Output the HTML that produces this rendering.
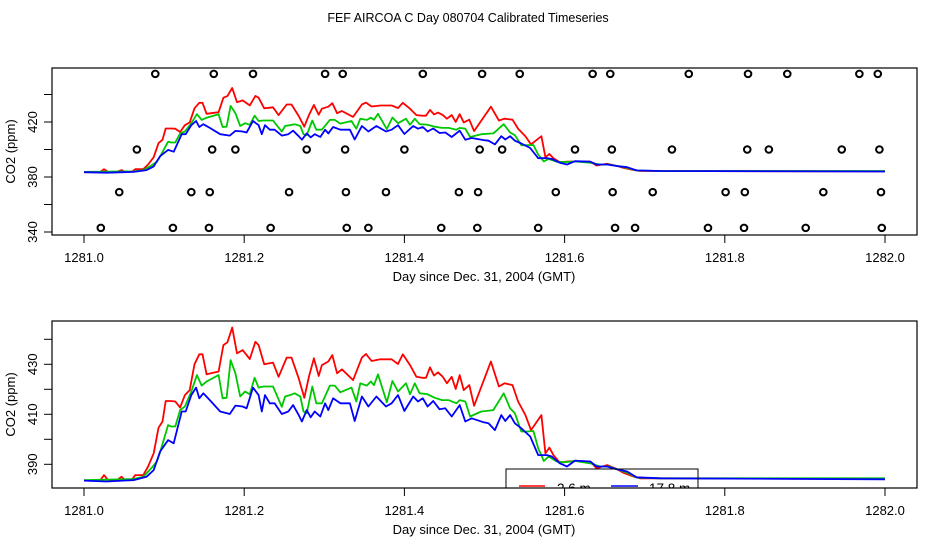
<!DOCTYPE html>
<html><head><meta charset="utf-8"><style>
body{margin:0;background:#fff;}
svg{display:block;font-family:"Liberation Sans",sans-serif;}
</style></head><body>
<svg id="c" width="936" height="540" viewBox="0 0 936 540">
<defs>
<clipPath id="clipTop"><rect x="52" y="68" width="865" height="167"/></clipPath>
<clipPath id="clipBot"><rect x="52" y="321" width="865" height="167"/></clipPath>
</defs>
<rect width="936" height="540" fill="#fff"/>
<text x="468" y="22" text-anchor="middle" font-size="12.5">FEF AIRCOA C  Day 080704  Calibrated Timeseries</text>
<g id="top"></g>
<g id="bot"></g>
</svg>
<script>
const dayBase = 1281;
const xTicks = [1281.0, 1281.2, 1281.4, 1281.6, 1281.8, 1282.0];
const xTickLabels = ["1281.0", "1281.2", "1281.4", "1281.6", "1281.8", "1282.0"];
const topYTicks = [340, 360, 380, 400, 420, 440];
const topYLabels = ["340", "", "380", "", "420", ""];
const botYTicks = [390, 400, 410, 420, 430, 440];
const botYLabels = ["390", "", "410", "", "430", ""];

const redT = [0,.020,.025,.030,.041,.047,.051,.060,.064,.074,.080,.087,.093,.098,.102,.108,.114,.120,.126,.132,.138,.144,.148,.153,.168,.174,.179,.185,.191,.198,.207,.214,.218,.225,.236,.243,.253,.259,.268,.275,.281,.287,.293,.297,.305,.310,.316,.322,.336,.347,.352,.359,.370,.376,.384,.392,.398,.407,.415,.422,.427,.432,.437,.442,.448,.453,.459,.464,.469,.474,.481,.487,.508,.518,.525,.535,.542,.551,.558,.571,.576,.581,.586,.594,.603,.613,.632,.640,.653,.665,.673,.686,.694,.719,1.0];
const redV = [383.5,383.5,385.7,383.7,383.7,385.0,383.7,384.0,385.7,385.7,389.1,394.4,404.6,407.1,415.3,415.3,415.1,412.7,417.7,419.7,430.0,434.0,434.0,426.0,427.1,437.7,438.8,444.7,434.4,435.7,432.1,439.0,437.7,430.0,430.7,425.0,432.7,432.7,424.4,416.6,425.3,432.4,425.3,429.7,431.1,433.7,426.4,428.0,423.7,432.7,434.1,431.3,432.0,432.0,432.0,430.1,434.0,429.7,425.0,424.6,424.6,428.8,425.5,426.8,425.0,422.4,425.0,420.1,425.7,419.7,421.7,413.4,431.1,421.1,422.4,421.7,415.1,409.7,403.7,409.7,394.4,396.7,393.7,390.7,391.1,391.3,391.1,388.4,389.7,388.1,386.7,385.1,384.4,384.4,384.1];

const greenT = [0,.062,.074,.084,.091,.095,.105,.109,.114,.120,.126,.134,.141,.147,.153,.168,.173,.178,.183,.189,.195,.201,.207,.213,.218,.224,.236,.247,.251,.257,.263,.270,.274,.278,.285,.290,.297,.307,.313,.320,.334,.340,.345,.353,.358,.362,.367,.378,.385,.392,.402,.407,.413,.419,.428,.438,.447,.455,.465,.469,.476,.482,.496,.511,.524,.532,.538,.546,.553,.561,.567,.574,.580,.590,.599,.613,.632,.644,.655,.669,.680,.690,.719,1.0];
const greenV = [383.7,384.1,385.0,388.4,391.1,394.8,405.7,405.1,405.1,411.7,413.1,419.1,425.7,421.5,423.1,425.7,416.4,416.6,431.7,426.4,417.1,419.1,418.0,424.6,420.7,421.1,421.1,413.0,417.1,417.7,418.4,417.1,411.1,410.4,421.1,414.4,414.4,421.5,421.5,418.8,420.7,415.1,422.4,421.5,423.1,421.7,426.0,414.8,423.3,419.1,422.4,418.0,422.4,418.4,418.1,416.6,415.7,415.7,414.4,415.7,415.1,409.1,411.1,411.7,418.4,412.4,410.4,403.1,403.1,403.3,396.4,391.3,393.1,391.1,390.8,391.3,390.4,389.1,389.1,387.7,386.4,384.7,384.4,384.4];

const blueT = [0,.028,.062,.078,.087,.095,.105,.112,.122,.127,.134,.140,.144,.149,.157,.170,.182,.189,.198,.203,.211,.218,.222,.226,.232,.238,.247,.255,.261,.268,.272,.278,.283,.288,.295,.301,.305,.311,.320,.332,.338,.347,.355,.365,.377,.384,.392,.400,.411,.417,.423,.429,.436,.444,.451,.459,.469,.476,.484,.499,.505,.513,.521,.526,.532,.538,.546,.557,.567,.578,.584,.594,.603,.613,.632,.640,.653,.665,.678,.690,.719,1.0];
const blueV = [383.5,383.1,383.7,385.0,387.7,395.1,399.7,398.4,411.1,411.1,417.7,420.7,416.4,418.4,415.7,411.1,410.1,413.5,413.1,412.4,420.7,417.7,411.1,417.7,414.4,414.4,410.1,411.1,413.7,409.7,407.1,411.7,408.8,411.1,409.1,414.4,411.7,416.4,414.4,414.4,407.3,417.1,413.1,417.1,413.1,414.4,417.7,411.3,417.1,415.1,416.4,413.1,415.3,412.0,412.4,409.1,413.7,407.1,408.4,406.8,406.4,403.7,409.7,407.3,409.7,406.4,404.4,401.1,393.7,393.7,393.1,390.4,389.1,391.5,391.1,389.1,389.1,388.0,387.1,384.8,384.4,384.0];

const flagRowValues = [455, 400, 369, 343];
const flagRow455 = [.089,.162,.211,.301,.323,.423,.497,.544,.635,.657,.755,.829,.878,.968,.991];
const flagRow400 = [.066,.160,.189,.278,.326,.400,.494,.522,.613,.659,.734,.828,.855,.946,.993];
const flagRow369 = [.044,.134,.157,.256,.327,.377,.468,.492,.589,.660,.710,.801,.825,.923,.995];
const flagRow343 = [.021,.111,.156,.233,.328,.355,.446,.491,.567,.663,.688,.779,.824,.901,.996];

const NS = "http://www.w3.org/2000/svg";
function mk(tag, attrs, parent){
  const e = document.createElementNS(NS, tag);
  for (const k in attrs) e.setAttribute(k, attrs[k]);
  parent.appendChild(e);
  return e;
}
const xScale = d => 84 + (d - dayBase) * 801;
const xT = t => 84 + t * 801;

function drawPanel(g, top, bottom, yScale, yTicks, yLabels, clipId){
  const box = mk("rect", {x:52, y:top, width:865, height:bottom-top, fill:"none", stroke:"#000", "stroke-width":1.2}, g);
  
  
  xTicks.forEach((d, i) => {
    const x = xScale(d);
    const tk = mk("line", {x1:x, x2:x, y1:bottom, y2:bottom+8, stroke:"#000", "stroke-width":1}, g);
    
    
    const lb = mk("text", {x:x, y:bottom+27, "text-anchor":"middle", "font-size":13}, g);
    
    
    lb.textContent = xTickLabels[i];
  });
  yTicks.forEach((v, i) => {
    const y = yScale(v);
    const tk = mk("line", {x1:44, x2:52, y1:y, y2:y, stroke:"#000", "stroke-width":1}, g);
    
    
    if (yLabels[i]) {
      const lb = mk("text", {x:0, y:0, "text-anchor":"middle", "font-size":13, transform:`translate(37,${y}) rotate(-90)`}, g);
      
      
      lb.textContent = yLabels[i];
    }
  });
  const xt = mk("text", {x:484, y:bottom+46, "text-anchor":"middle", "font-size":13}, g);
  
  
  xt.textContent = "Day since Dec. 31, 2004 (GMT)";
  const yt = mk("text", {x:0, y:0, "text-anchor":"middle", "font-size":13, transform:`translate(15,${(top+bottom)/2}) rotate(-90)`}, g);
  
  
  yt.textContent = "CO2 (ppm)";
  const lg = mk("g", {"clip-path":`url(#${clipId})`}, g);
  
  
  [[redT, redV, "#ff0000", "series-2-6m"], [greenT, greenV, "#00c800", "series-mid"], [blueT, blueV, "#0000ff", "series-17-8m"]].forEach(s => {
    const pts = s[0].map((t, i) => xT(t).toFixed(1) + "," + yScale(s[1][i]).toFixed(1)).join(" ");
    const pl = mk("polyline", {points:pts, fill:"none", stroke:s[2], "stroke-width":1.8, "stroke-linejoin":"round"}, lg);
    
    
  });
  return lg;
}

const topG = document.getElementById("top");
const topY = v => 177 - (v - 380) * 1.375;
drawPanel(topG, 68, 235, topY, topYTicks, topYLabels, "clipTop");
[flagRow455, flagRow400, flagRow369, flagRow343].forEach((row, r) => {
  row.forEach(t => {
    const c = mk("circle", {cx:xT(t), cy:topY(flagRowValues[r]), r:3.3, fill:"none", stroke:"#000", "stroke-width":2}, topG);
    
    
  });
});

const botG = document.getElementById("bot");
const botY = v => 364.3 - (v - 430) * 2.5;
drawPanel(botG, 321, 488, botY, botYTicks, botYLabels, "clipBot");

const leg = mk("g", {"clip-path":"url(#clipBot)"}, botG);


mk("rect", {x:506, y:469, width:192, height:40, fill:"none", stroke:"#000", "stroke-width":1}, leg);
const l1 = mk("line", {x1:519, x2:545, y1:486, y2:486, stroke:"#ff0000", "stroke-width":1.5}, leg);


const t1 = mk("text", {x:557, y:493, "font-size":13.5}, leg);


t1.textContent = "2.6 m";
const l2 = mk("line", {x1:611, x2:638, y1:486, y2:486, stroke:"#0000ff", "stroke-width":1.5}, leg);


const t2 = mk("text", {x:649, y:493, "font-size":13.5}, leg);


t2.textContent = "17.8 m";
</script>
</body></html>
